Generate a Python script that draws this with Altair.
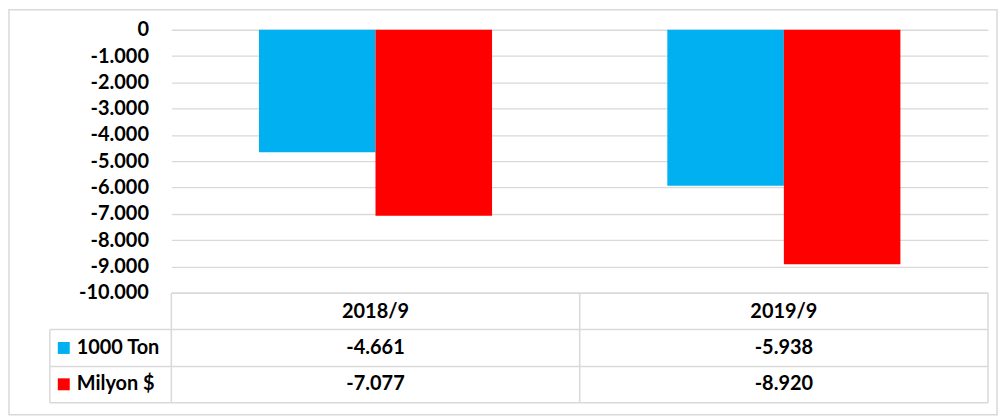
import altair as alt
import pandas as pd

categories = ["2018/9", "2019/9"]
series_names = ["1000 Ton", "Milyon $"]
ton_values = [-4661, -5938]
usd_values = [-7077, -8920]
series_colors = ["#00B0F0", "#FF0000"]
y_ticks = [0, -1000, -2000, -3000, -4000, -5000, -6000, -7000, -8000, -9000, -10000]

FONT = "Lato"
GRID = "#d9d9d9"
FS = 20


def fmt(v):
    return f"{v:,}".replace(",", ".")


rows = []
for s, vals in zip(series_names, [ton_values, usd_values]):
    for c, v in zip(categories, vals):
        rows.append({"category": c, "series": s, "value": v, "label": fmt(v)})
df = pd.DataFrame(rows)
cat_df = pd.DataFrame({"category": categories})
ser_df = pd.DataFrame({"series": series_names})
one = pd.DataFrame({"k": [0]})

color_scale = alt.Scale(domain=series_names, range=series_colors)
x_enc = alt.X("category:N", sort=categories,
              scale=alt.Scale(paddingInner=0, paddingOuter=0), axis=None)

label_expr = "(datum.value < 0 ? '-' : '') + replace(format(abs(datum.value), ',d'), ',', '.')"

bars = alt.Chart(df).mark_bar().encode(
    x=x_enc,
    xOffset=alt.XOffset("series:N", sort=series_names,
                        scale=alt.Scale(paddingInner=0, paddingOuter=0.752)),
    y=alt.Y("value:Q", scale=alt.Scale(domain=[-10000, 0], nice=False),
            axis=alt.Axis(values=y_ticks, grid=True, domain=False, ticks=False,
                          labelExpr=label_expr, labelFont=FONT, labelFontSize=FS,
                          labelFontWeight="bold", labelColor="black", labelPadding=23,
                          gridColor=GRID, gridWidth=1.3, title=None)),
    color=alt.Color("series:N", scale=color_scale, legend=None),
)


def hline(x1, x2, y):
    return alt.Chart(one).mark_rule(color=GRID, strokeWidth=1.5).encode(
        x=alt.value(x1), x2=alt.value(x2), y=alt.value(y))


def vline(x, y1, y2):
    return alt.Chart(one).mark_rule(color=GRID, strokeWidth=1.5).encode(
        x=alt.value(x), y=alt.value(y1), y2=alt.value(y2))


border = alt.Chart(one).mark_rect(fill="white", fillOpacity=0, stroke=GRID, strokeWidth=1.5).encode(
    x=alt.value(-163), x2=alt.value(829), y=alt.value(-20), y2=alt.value(386.5))

text_props = dict(font=FONT, fontSize=FS, fontWeight="bold", color="black")

header = alt.Chart(cat_df).mark_text(**text_props).encode(
    x=alt.X("category:N", sort=categories), y=alt.value(283), text="category:N")

row_y = {series_names[0]: 319.5, series_names[1]: 356}
row_layers = []
for s in series_names:
    row_layers.append(
        alt.Chart(df).transform_filter(alt.datum.series == s).mark_text(**text_props).encode(
            x=alt.X("category:N", sort=categories), y=alt.value(row_y[s]), text="label:N"))
    row_layers.append(
        alt.Chart(ser_df).transform_filter(alt.datum.series == s).mark_square(size=144, opacity=1).encode(
            x=alt.value(-108), y=alt.value(row_y[s]),
            color=alt.Color("series:N", scale=color_scale, legend=None)))
    row_layers.append(
        alt.Chart(ser_df).transform_filter(alt.datum.series == s).mark_text(align="left", **text_props).encode(
            x=alt.value(-95), y=alt.value(row_y[s]), text="series:N"))

lines = [
    hline(0, 820, 264.5),
    hline(-122, 820, 301),
    hline(-122, 820, 338),
    hline(-122, 820, 374.5),
    vline(-122, 301, 374.5),
    vline(0, 264.5, 374.5),
    vline(410, 264.5, 374.5),
    vline(820, 264.5, 374.5),
]

chart = alt.layer(border, bars, *lines, header, *row_layers).properties(
    width=820, height=264, padding=0, background="white"
).configure_view(strokeWidth=0)

chart.save("out.html", embed_options={"renderer": "svg", "actions": False})
